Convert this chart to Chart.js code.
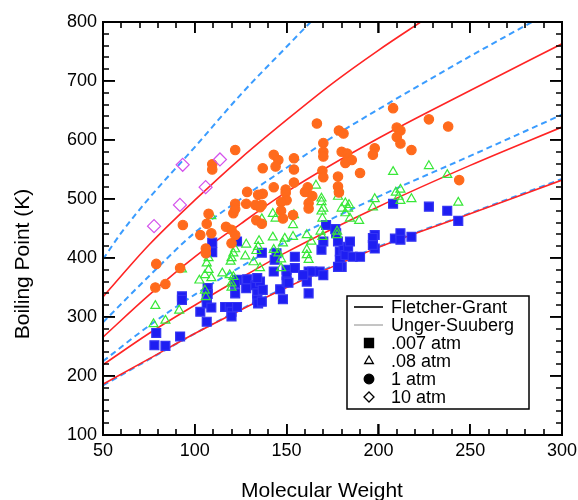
<!DOCTYPE html>
<html>
<head>
<meta charset="utf-8">
<title>Boiling point vs molecular weight</title>
<script src="https://cdn.jsdelivr.net/npm/chart.js@4.4.1/dist/chart.umd.min.js"></script>
<style>
  html, body { margin: 0; padding: 0; background: #fff; }
</style>
</head>
<body>
<canvas id="bp" width="578" height="500"></canvas>
<script>
// axis ranges
const X_MIN = 50, X_MAX = 300, Y_MIN = 100, Y_MAX = 800;

// correlation curves (molecular weight -> boiling point, K)
const fgX    = [50, 75, 100, 125, 150, 200, 250, 300];
const fg007  = [186, 229, 272, 312, 350, 418, 475, 532];
const fg08   = [219, 272, 320, 366, 410, 487, 557, 622];
const fg1    = [266, 337, 402, 458, 512, 603, 684, 763];
const fg10X  = [50, 60, 75, 100, 125, 150, 175, 200, 225];
const fg10   = [334, 370, 422, 498, 569, 634, 696, 752, 804];

const usX    = [50, 75, 100, 125, 150, 200, 250, 300];
const us007  = [184, 228, 272, 313, 351, 419, 476, 534];
const us08   = [225, 285, 338, 385, 428, 504, 573, 643];
const us1X   = [50, 75, 100, 125, 150, 175, 200, 250, 300];
const us1    = [291, 369, 443, 500, 553, 605, 652, 742, 828];
const us10X  = [50, 60, 75, 100, 125, 150, 175];
const us10   = [398, 443, 501, 588, 677, 758, 838];

// measured boiling points
const mw007 = [79, 78, 84, 92, 93, 93, 103, 106.5, 106.5, 109, 106.5, 107, 107, 109.5, 109.5, 116.5, 119, 120, 120, 123,
  122, 122, 123, 123, 128, 128.5, 133, 134, 134, 134.5, 135.5, 134, 136.5, 143, 144.5, 143.5, 146.5, 148, 150, 150,
  150, 154.5, 154.5, 151, 162, 161, 162, 159, 164, 168, 170, 169, 170, 171.5, 137, 136.5, 178, 177, 176.5, 179,
  179, 180, 178, 181, 182, 183.5, 184.5, 186, 190, 198, 198, 197, 208, 209, 212, 212, 218, 227.5, 237.5, 243.5, 197];
const bp007 = [273, 252, 251, 267, 335, 329, 309, 332, 323, 316, 292, 349, 339, 426, 410, 317, 317, 309, 301, 363,
  357, 340, 428, 317, 349, 364, 354, 340, 329, 323, 360, 366, 409, 377, 408, 397, 347, 330, 380, 371,
  360, 402, 383, 358, 377, 360, 340, 371, 377, 377, 371, 414, 428, 456, 346, 326, 428, 442, 449, 411,
  397, 385, 385, 414, 405, 419, 428, 402, 402, 439, 416, 434, 492, 433, 442, 431, 436, 487, 480, 463, 422];

const mw08 = [78.5, 77.5, 84, 91.5, 93, 107.5, 106.5, 107.5, 105.5, 102.5, 109, 105.5, 106, 109, 115, 119, 120, 120, 121, 122,
  121, 120, 119.5, 127.5, 128, 135, 134.5, 133.5, 132, 135.5, 136.5, 142.5, 142.5, 143, 145.5, 147, 147, 149, 148, 154,
  153.5, 153.5, 161, 163.5, 161, 161, 162, 168.5, 169.5, 169, 170, 169, 169.5, 166, 169, 178.5, 178, 177.5, 177.5, 182,
  184, 183.5, 180, 182, 184.5, 198, 197, 189.5, 208, 227.5, 237.5, 209.5, 212, 211, 212, 218, 243.5, 144];
const bp08 = [319, 288, 294, 311, 381, 400, 391, 380, 371, 362, 366, 345, 334, 471, 374, 371, 357, 350, 368, 415,
  408, 400, 394, 403, 423, 429, 419, 412, 393, 383, 466, 475, 435, 414, 408, 398, 383, 433, 425, 473,
  456, 436, 439, 428, 414, 405, 397, 445, 436, 495, 484, 479, 467, 523, 501, 518, 504, 445, 439, 493,
  490, 484, 484, 476, 467, 500, 486, 463, 546, 556, 541, 511, 516, 504, 497, 500, 494, 467];

const mw1 = [122, 109.5, 109.5, 166.5, 178.5, 181, 170, 170, 170, 180, 183, 183.5, 182, 185.5, 198, 197, 143, 145.5, 144, 154,
  154, 137, 169.5, 170, 178, 190, 154, 143, 149.5, 149.5, 161.5, 160, 164, 178, 178.5, 137, 150, 147, 162, 162,
  147, 148, 136.5, 128.5, 134.5, 122, 128, 133, 135.5, 121, 107.5, 106.5, 93.5, 103, 109, 117, 120, 122, 120, 133.5,
  136.5, 153.5, 106, 106, 79, 92, 84, 78.5, 208, 227.5, 238, 210, 212, 210, 212, 218, 244, 122];
const bp1 = [583, 559, 550, 628, 616, 611, 595, 580, 572, 580, 577, 569, 561, 566, 586, 575, 575, 566, 555, 569,
  550, 552, 548, 537, 538, 544, 528, 520, 516, 510, 520, 512, 505, 521, 511, 509, 498, 495, 493, 484,
  480, 467, 490, 512, 507, 492, 492, 490, 486, 476, 475, 458, 456, 439, 442, 453, 448, 439, 425, 464,
  458, 473, 416, 408, 390, 383, 356, 350, 654, 635, 623, 621, 616, 605, 594, 583, 532, 483];

const mw10 = [77.8, 91.9, 93.4, 105.9, 113.7];
const bp10 = [454, 490, 558, 520, 567];

const legendRows = ['Fletcher-Grant', 'Unger-Suuberg', '.007 atm', '.08 atm', '1 atm', '10 atm'];

const FONT = '"Liberation Sans", Arial, Helvetica, sans-serif';

function pairs(xs, ys) {
  return xs.map((x, i) => ({ x: x, y: ys[i] }));
}

function curve(xs, ys, dashed) {
  return {
    data: pairs(xs, ys),
    showLine: true,
    pointRadius: 0,
    borderColor: dashed ? '#3a9cff' : '#ff2424',
    borderWidth: dashed ? 2 : 1.6,
    borderDash: dashed ? [6, 4] : [],
    cubicInterpolationMode: 'monotone',
    order: 5
  };
}

function markers(xs, ys, style, radius, fill, stroke) {
  return {
    data: pairs(xs, ys),
    showLine: false,
    pointStyle: style,
    pointRadius: radius,
    pointHoverRadius: radius,
    backgroundColor: fill,
    borderColor: stroke,
    borderWidth: 1.2,
    order: 1
  };
}

// inward major tick marks drawn by the axes themselves (negative tick length)
function tickGrid(len) {
  return {
    display: true,
    drawOnChartArea: false,
    drawTicks: true,
    tickLength: -len,
    tickColor: '#000',
    tickWidth: 1.6,
    color: '#000',
    lineWidth: 1.6
  };
}

// frame, minor ticks, axis titles and legend box
const framePlugin = {
  id: 'frame',
  afterDraw(chart) {
    const ctx = chart.ctx;
    const a = chart.chartArea;
    const left = a.left, right = a.right, top = a.top, bottom = a.bottom;
    const w = right - left, h = bottom - top;
    ctx.save();
    ctx.setLineDash([]);
    ctx.strokeStyle = '#000';
    ctx.lineWidth = 2;
    ctx.strokeRect(left, top, w, h);

    ctx.lineWidth = 1.6;
    ctx.beginPath();
    for (let i = 0; i <= 25; i++) {
      const px = Math.round(left + i * w / 25);
      const len = i % 5 === 0 ? 11 : 6;
      ctx.moveTo(px, bottom);
      ctx.lineTo(px, bottom - len);
      ctx.moveTo(px, top);
      ctx.lineTo(px, top + len);
    }
    for (let i = 0; i <= 35; i++) {
      const py = Math.round(bottom - i * h / 35);
      const len = i % 5 === 0 ? 12 : 6;
      ctx.moveTo(left, py);
      ctx.lineTo(left + len, py);
      ctx.moveTo(right, py);
      ctx.lineTo(right - len, py);
    }
    ctx.stroke();

    // axis titles
    ctx.fillStyle = '#000';
    ctx.font = '21px ' + FONT;
    ctx.textAlign = 'center';
    ctx.textBaseline = 'alphabetic';
    ctx.fillText('Molecular Weight', 322, 497);
    ctx.save();
    ctx.translate(29, 264);
    ctx.rotate(-Math.PI / 2);
    ctx.fillText('Boiling Point (K)', 0, 0);
    ctx.restore();

    // legend
    const bx = 347, by = 296, bw = 182, bh = 113;
    ctx.fillStyle = '#fff';
    ctx.fillRect(bx, by, bw, bh);
    ctx.lineWidth = 1.5;
    ctx.strokeStyle = '#000';
    ctx.strokeRect(bx, by, bw, bh);

    const rowY = i => by + 11 + i * 18;
    ctx.lineWidth = 1.6;
    ctx.beginPath();
    ctx.moveTo(bx + 7, rowY(0));
    ctx.lineTo(bx + 36, rowY(0));
    ctx.stroke();
    ctx.strokeStyle = '#8a8a8a';
    ctx.lineWidth = 1;
    ctx.beginPath();
    ctx.moveTo(bx + 7, rowY(1));
    ctx.lineTo(bx + 36, rowY(1));
    ctx.stroke();

    const marks = [
      { pointStyle: 'rect', radius: 6.4, fill: '#000' },
      { pointStyle: 'triangle', radius: 5, fill: '#fff' },
      { pointStyle: 'circle', radius: 4.8, fill: '#000' },
      { pointStyle: 'rectRot', radius: 5, fill: '#fff' }
    ];
    ctx.strokeStyle = '#000';
    marks.forEach((m, i) => {
      ctx.fillStyle = m.fill;
      ctx.lineWidth = 1.3;
      Chart.helpers.drawPoint(ctx, { pointStyle: m.pointStyle, radius: m.radius, borderWidth: 1.3, rotation: 0 },
        bx + 22, rowY(i + 2));
    });

    ctx.fillStyle = '#000';
    ctx.font = '18px ' + FONT;
    ctx.textAlign = 'left';
    ctx.textBaseline = 'middle';
    legendRows.forEach((t, i) => ctx.fillText(t, bx + 44, rowY(i) + 1));
    ctx.restore();
  }
};

new Chart(document.getElementById('bp'), {
  type: 'scatter',
  data: {
    datasets: [
      markers(mw10, bp10, 'rectRot', 6.5, 'rgba(255,255,255,0)', '#d452ec'),
      markers(mw1, bp1, 'circle', 4.7, '#ff6a1c', '#ff6a1c'),
      markers(mw08, bp08, 'triangle', 5.2, 'rgba(255,255,255,0)', '#38e838'),
      markers(mw007, bp007, 'rect', 6.3, '#1e1ef2', '#3434f4'),
      curve(fgX, fg007, false),
      curve(usX, us007, true),
      curve(fgX, fg08, false),
      curve(usX, us08, true),
      curve(fgX, fg1, false),
      curve(us1X, us1, true),
      curve(fg10X, fg10, false),
      curve(us10X, us10, true)
    ]
  },
  options: {
    responsive: false,
    animation: false,
    layout: { padding: { left: 0, right: 16, top: 22, bottom: 0 } },
    plugins: { legend: { display: false }, tooltip: { enabled: false } },
    scales: {
      x: {
        type: 'linear', position: 'bottom', min: X_MIN, max: X_MAX,
        grid: tickGrid(11),
        border: { display: false },
        ticks: { stepSize: 50, padding: 16, color: '#000', font: { family: FONT, size: 18 } },
        afterFit(s) { s.height = 65; s.paddingLeft = 0; s.paddingRight = 0; }
      },
      x2: {
        type: 'linear', axis: 'x', position: 'top', min: X_MIN, max: X_MAX,
        grid: tickGrid(11),
        border: { display: false },
        ticks: { stepSize: 50, display: false },
        afterFit(s) { s.height = 0; s.paddingLeft = 0; s.paddingRight = 0; }
      },
      y: {
        type: 'linear', position: 'left', min: Y_MIN, max: Y_MAX,
        grid: tickGrid(12),
        border: { display: false },
        ticks: { stepSize: 100, padding: 18, color: '#000', font: { family: FONT, size: 18 } },
        afterFit(s) { s.width = 103; s.paddingTop = 0; s.paddingBottom = 0; }
      },
      y2: {
        type: 'linear', axis: 'y', position: 'right', min: Y_MIN, max: Y_MAX,
        grid: tickGrid(12),
        border: { display: false },
        ticks: { stepSize: 100, display: false },
        afterFit(s) { s.width = 0; s.paddingTop = 0; s.paddingBottom = 0; }
      }
    }
  },
  plugins: [framePlugin]
});
</script>
</body>
</html>
